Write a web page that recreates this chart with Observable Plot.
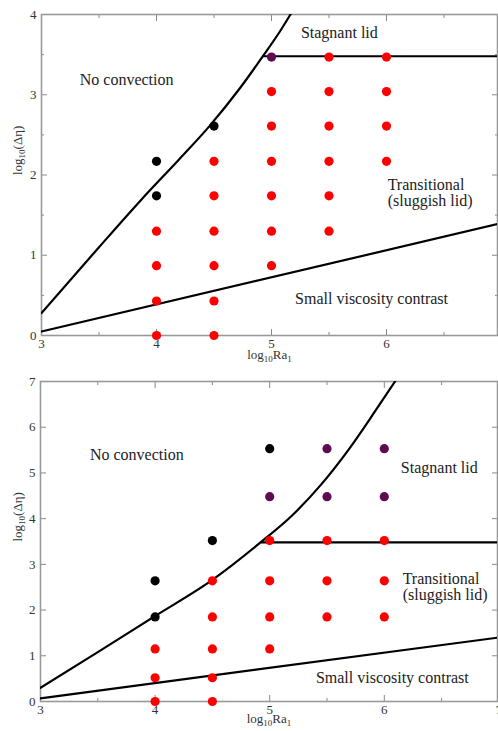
<!DOCTYPE html>
<html>
<head>
<meta charset="utf-8">
<script src="https://cdn.jsdelivr.net/npm/d3@7"></script>
<script src="https://cdn.jsdelivr.net/npm/@observablehq/plot@0.6"></script>
<style>
  html, body { margin: 0; padding: 0; background: #fff; }
  #chart { width: 498px; }
  #chart svg { display: block; }
</style>
</head>
<body>
<div id="chart"></div>
<script>
// ---------- Shared tick values ----------
const p1XMajor = [3, 4, 5, 6];
const p2XMajor = [3, 4, 5, 6, 7];
const xMinor = [3.5, 4.5, 5.5, 6.5];
const p1YMajor = [0, 1, 2, 3, 4];
const p1YMinor = [0.5, 1.5, 2.5, 3.5];
const p2YMajor = [0, 1, 2, 3, 4, 5, 6, 7];

// ---------- Panel 1 data ----------
const p1PtX = [4, 4, 4, 4, 4, 4,
               4.5, 4.5, 4.5, 4.5, 4.5, 4.5, 4.5,
               5, 5, 5, 5, 5, 5, 5,
               5.5, 5.5, 5.5, 5.5, 5.5, 5.5,
               6, 6, 6, 6];
const p1PtY = [2.17, 1.74, 1.30, 0.87, 0.43, 0,
               2.61, 2.17, 1.74, 1.30, 0.87, 0.43, 0,
               3.47, 3.04, 2.61, 2.17, 1.74, 1.30, 0.87,
               3.47, 3.04, 2.61, 2.17, 1.74, 1.30,
               3.47, 3.04, 2.61, 2.17];
const p1PtType = ["none", "none", "trans", "trans", "trans", "trans",
                  "none", "trans", "trans", "trans", "trans", "trans", "trans",
                  "lid", "trans", "trans", "trans", "trans", "trans", "trans",
                  "trans", "trans", "trans", "trans", "trans", "trans",
                  "trans", "trans", "trans", "trans"];
const p1CurveX = [3, 3.5, 3.86, 4.2, 4.455, 4.73, 4.93, 5.06, 5.165, 5.2];
const p1CurveY = [0.28, 1.1, 1.68, 2.2, 2.6, 3.09, 3.49, 3.76, 4.0, 4.08];
const p1LowX = [3, 7];
const p1LowY = [0.05, 1.40];
const p1LidX = [4.93, 7];
const p1LidY = [3.48, 3.48];
const p1LabText = ["Stagnant lid", "No convection", "Transitional\n(sluggish lid)", "Small viscosity contrast"];
const p1LabX = [5.59, 3.74, 6.01, 5.87];
const p1LabY = [3.77, 3.19, 1.78, 0.46];
const p1LabAnchor = ["middle", "middle", "start", "middle"];

// ---------- Panel 2 data ----------
const p2PtX = [4, 4, 4, 4, 4,
               4.5, 4.5, 4.5, 4.5, 4.5, 4.5,
               5, 5, 5, 5, 5, 5,
               5.5, 5.5, 5.5, 5.5, 5.5,
               6, 6, 6, 6, 6];
const p2PtY = [2.64, 1.85, 1.15, 0.52, 0,
               3.52, 2.64, 1.85, 1.15, 0.52, 0,
               5.53, 4.48, 3.52, 2.64, 1.85, 1.15,
               5.53, 4.48, 3.52, 2.64, 1.85,
               5.53, 4.48, 3.52, 2.64, 1.85];
const p2PtType = ["none", "none", "trans", "trans", "trans",
                  "none", "trans", "trans", "trans", "trans", "trans",
                  "none", "lid", "trans", "trans", "trans", "trans",
                  "lid", "lid", "trans", "trans", "trans",
                  "lid", "lid", "trans", "trans", "trans"];
const p2CurveX = [3, 3.5, 4, 4.5, 4.92, 5.2, 5.45, 5.7, 5.92, 6.12];
const p2CurveY = [0.3, 1.08, 1.87, 2.66, 3.48, 4.08, 4.75, 5.55, 6.35, 7.1];
const p2LowX = [3, 7];
const p2LowY = [0.07, 1.40];
const p2LidX = [4.93, 7];
const p2LidY = [3.48, 3.48];
const p2LabText = ["No convection", "Stagnant lid", "Transitional\n(sluggish lid)", "Small viscosity contrast"];
const p2LabX = [3.84, 6.48, 6.16, 6.07];
const p2LabY = [5.40, 5.11, 2.50, 0.52];
const p2LabAnchor = ["middle", "middle", "start", "middle"];

const typeColors = {none: "#000000", lid: "#5e0b4f", trans: "#ff0000"};

function zip2(xs, ys) { return xs.map((x, i) => ({x, y: ys[i]})); }

function panel(o) {
  const pts = o.ptX.map((x, i) => ({x, y: o.ptY[i], t: o.ptType[i]}));
  const labs = o.labText.map((t, i) => ({t, x: o.labX[i], y: o.labY[i], a: o.labAnchor[i]}));
  const tickStroke = "#888";
  const fmt = d => String(d);
  const none = () => "";
  return Plot.plot({
    width: 498,
    height: o.height,
    marginLeft: o.ml,
    marginRight: 1,
    marginTop: o.mt,
    marginBottom: o.mb,
    x: {domain: [3, 7], range: [o.ml, o.ml + 4 * o.xUnit]},
    y: {domain: [0, o.ymax]},
    style: {fontFamily: "'Liberation Serif', serif", background: "#fff", overflow: "visible"},
    marks: [
      Plot.axisX({anchor: "bottom", ticks: o.xMajor, tickSize: -6, tickPadding: 9, tickFormat: fmt, label: null, stroke: tickStroke, fill: "#333", fontSize: 13}),
      Plot.axisX({anchor: "bottom", ticks: xMinor, tickSize: -3, tickFormat: none, label: null, stroke: tickStroke}),
      Plot.axisX({anchor: "top", ticks: [3, 4, 5, 6], tickSize: -6, tickFormat: none, label: null, stroke: tickStroke}),
      Plot.axisX({anchor: "top", ticks: xMinor, tickSize: -3, tickFormat: none, label: null, stroke: tickStroke}),
      Plot.axisY({anchor: "left", ticks: o.yMajor, tickSize: -6, tickPadding: 11, tickFormat: fmt, label: null, stroke: tickStroke, fill: "#333", fontSize: 13}),
      Plot.axisY({anchor: "right", ticks: o.yMajor, tickSize: -6, tickFormat: none, label: null, stroke: tickStroke}),
      ...(o.yMinor ? [
        Plot.axisY({anchor: "left", ticks: o.yMinor, tickSize: -3, tickFormat: none, label: null, stroke: tickStroke}),
        Plot.axisY({anchor: "right", ticks: o.yMinor, tickSize: -3, tickFormat: none, label: null, stroke: tickStroke})
      ] : []),
      Plot.frame({stroke: "#999", strokeWidth: 1.6}),
      Plot.line(zip2(o.curveX, o.curveY), {x: "x", y: "y", stroke: "#000", strokeWidth: 2.2, curve: "monotone-x", clip: true}),
      Plot.line(zip2(o.lowX, o.lowY), {x: "x", y: "y", stroke: "#000", strokeWidth: 2.2, clip: true}),
      Plot.line(zip2(o.lidX, o.lidY), {x: "x", y: "y", stroke: "#000", strokeWidth: 2.2, clip: true}),
      Plot.dot(pts, {x: "x", y: "y", r: 4.6, fill: d => typeColors[d.t], stroke: null}),
      Plot.text(labs.filter(d => d.a === "middle"), {x: "x", y: "y", text: "t", fontSize: 16, fill: "#222", textAnchor: "middle", lineHeight: 1}),
      Plot.text(labs.filter(d => d.a === "start"), {x: "x", y: "y", text: "t", fontSize: 16, fill: "#222", textAnchor: "start", lineHeight: 1}),
      Plot.text(["XLABEL"], {frameAnchor: "bottom", dy: o.xlabDy, text: d => d, fontSize: 13, fill: "#333"}),
      Plot.text(["YLABEL"], {frameAnchor: "left", dx: 17 - o.ml, rotate: -90, text: d => d, fontSize: 13, fill: "#333"})
    ]
  });
}

function subscriptLabels(svg) {
  const NS = "http://www.w3.org/2000/svg";
  svg.querySelectorAll("text").forEach(t => {
    const c = t.textContent;
    let parts = null;
    if (c === "XLABEL") parts = [["log", 0], ["10", 1], ["Ra", 0], ["1", 1]];
    if (c === "YLABEL") parts = [["log", 0], ["10", 1], ["(Δη)", 0]];
    if (!parts) return;
    while (t.firstChild) t.removeChild(t.firstChild);
    let cur = 0;
    parts.forEach(([s, sub]) => {
      const ts = document.createElementNS(NS, "tspan");
      const target = sub ? 3 : 0;
      ts.setAttribute("dy", String(target - cur));
      cur = target;
      if (sub) ts.setAttribute("font-size", "9");
      ts.textContent = s;
      t.appendChild(ts);
    });
  });
}

const chart = document.getElementById("chart");
const svg1 = panel({
  height: 366, ml: 41, mt: 14, mb: 31, xUnit: 115, ymax: 4,
  xMajor: p1XMajor, yMajor: p1YMajor, yMinor: p1YMinor,
  ptX: p1PtX, ptY: p1PtY, ptType: p1PtType,
  curveX: p1CurveX, curveY: p1CurveY, lowX: p1LowX, lowY: p1LowY, lidX: p1LidX, lidY: p1LidY,
  labText: p1LabText, labX: p1LabX, labY: p1LabY, labAnchor: p1LabAnchor,
  xlabDy: 23
});
const svg2 = panel({
  height: 365, ml: 40, mt: 15, mb: 30, xUnit: 114.6, ymax: 7,
  xMajor: p2XMajor, yMajor: p2YMajor, yMinor: null,
  ptX: p2PtX, ptY: p2PtY, ptType: p2PtType,
  curveX: p2CurveX, curveY: p2CurveY, lowX: p2LowX, lowY: p2LowY, lidX: p2LidX, lidY: p2LidY,
  labText: p2LabText, labX: p2LabX, labY: p2LabY, labAnchor: p2LabAnchor,
  xlabDy: 21
});
subscriptLabels(svg1);
subscriptLabels(svg2);
chart.appendChild(svg1);
chart.appendChild(svg2);
</script>
</body>
</html>
